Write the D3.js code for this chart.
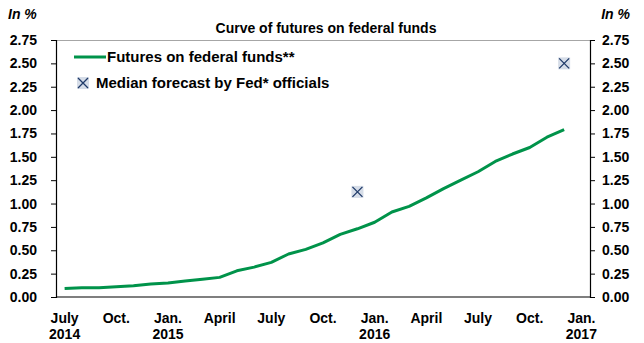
<!DOCTYPE html>
<html>
<head>
<meta charset="utf-8">
<script src="https://cdn.jsdelivr.net/npm/d3@7"></script>
<style>
  html, body { margin: 0; padding: 0; background: #fff; }
  svg { display: block; font-family: "Liberation Sans", Arial, sans-serif; }
</style>
</head>
<body>
<svg id="chart" width="644" height="343"></svg>
<script>
// Monthly categories, July 2014 to January 2017
const months = [
  "2014-07","2014-08","2014-09","2014-10","2014-11","2014-12",
  "2015-01","2015-02","2015-03","2015-04","2015-05","2015-06",
  "2015-07","2015-08","2015-09","2015-10","2015-11","2015-12",
  "2016-01","2016-02","2016-03","2016-04","2016-05","2016-06",
  "2016-07","2016-08","2016-09","2016-10","2016-11","2016-12",
  "2017-01"
];

// Implied rate from federal funds futures (in %), July 2014 - December 2016
const futures = [
  0.09, 0.10, 0.10, 0.11, 0.12, 0.14,
  0.15, 0.17, 0.19, 0.21, 0.28, 0.32,
  0.37, 0.46, 0.51, 0.58, 0.67, 0.73,
  0.80, 0.91, 0.97, 1.06, 1.16, 1.25,
  1.34, 1.45, 1.53, 1.60, 1.71, 1.79
];

// Median projection of FOMC participants for end-of-year rate
const fedMonths = ["2015-12", "2016-12"];
const fedMedian = [1.125, 2.50];

// Axis ticks
const yTicks = [0, 0.25, 0.5, 0.75, 1, 1.25, 1.5, 1.75, 2, 2.25, 2.5, 2.75];
const xTickMonths = ["2014-07","2014-10","2015-01","2015-04","2015-07","2015-10",
                     "2016-01","2016-04","2016-07","2016-10","2017-01"];
const xTickLabels = [["July","2014"],["Oct."],["Jan.","2015"],["April"],["July"],["Oct."],
                     ["Jan.","2016"],["April"],["July"],["Oct."],["Jan.","2017"]];

const svg = d3.select("#chart");
const plotL = 56, plotR = 590, plotT = 40, plotB = 297;

const x = d3.scaleBand().domain(months).range([plotL, plotR]).paddingInner(0).paddingOuter(0);
const xc = m => x(m) + x.bandwidth() / 2;
const y = d3.scaleLinear().domain([0, 2.75]).range([plotB, plotT]);

const green = "#00934a";
const navy = "#1f3a68";
const fontSize = 14;
const legendSize = 15;

// Top border of the plot area
svg.append("line")
  .attr("x1", plotL).attr("x2", plotR)
  .attr("y1", plotT + 0.5).attr("y2", plotT + 0.5)
  .attr("stroke", "#a6a6a6").attr("stroke-width", 1);

// Left and right value axes
const yLeft = d3.axisLeft(y).tickValues(yTicks).tickFormat(d3.format(".2f")).tickSizeOuter(0).tickSize(5).tickPadding(14);
const yRight = d3.axisRight(y).tickValues(yTicks).tickFormat(d3.format(".2f")).tickSizeOuter(0).tickSize(5).tickPadding(7);

function styleAxis(g) {
  g.select(".domain").attr("stroke", "#000").attr("stroke-width", 1.2);
  g.selectAll(".tick line").attr("stroke", "#000").attr("stroke-width", 1);
  g.selectAll(".tick text")
    .attr("fill", "#000")
    .style("font-size", fontSize + "px")
    .style("font-weight", "bold");
}

svg.append("g").attr("transform", `translate(${plotL},0)`).call(yLeft).call(styleAxis);
svg.append("g").attr("transform", `translate(${plotR},0)`).call(yRight).call(styleAxis);

// Bottom axis line
svg.append("line")
  .attr("x1", plotL).attr("x2", plotR)
  .attr("y1", plotB).attr("y2", plotB)
  .attr("stroke", "#000").attr("stroke-width", 1.2);

// Bottom month labels: month on the first line, year below where the year starts
const xl = svg.append("g");
xTickMonths.forEach((m, i) => {
  xTickLabels[i].forEach((s, j) => {
    xl.append("text")
      .attr("x", xc(m))
      .attr("y", plotB + 26 + j * 16)
      .attr("text-anchor", "middle")
      .style("font-size", fontSize + "px")
      .style("font-weight", "bold")
      .text(s);
  });
});

// Futures curve
const line = d3.line().x((d, i) => xc(months[i])).y(d => y(d));
svg.append("path")
  .datum(futures)
  .attr("d", line)
  .attr("fill", "none")
  .attr("stroke", green)
  .attr("stroke-width", 3)
  .attr("stroke-linejoin", "round");

// Fed median markers
function cross(g, cx, cy) {
  const s = 5;
  g.append("rect").attr("x", cx - s - 1).attr("y", cy - s - 1).attr("width", 2 * s + 2).attr("height", 2 * s + 2)
    .attr("fill", "#d6dde8");
  g.append("path")
    .attr("d", `M${cx - s},${cy - s}L${cx + s},${cy + s}M${cx - s},${cy + s}L${cx + s},${cy - s}`)
    .attr("stroke", navy).attr("stroke-width", 1.3).attr("fill", "none");
}
const mk = svg.append("g");
fedMedian.forEach((v, i) => cross(mk, xc(fedMonths[i]), y(v)));

// Legend
const lg = svg.append("g");
lg.append("line").attr("x1", 74).attr("x2", 106).attr("y1", 57).attr("y2", 57)
  .attr("stroke", green).attr("stroke-width", 3);
lg.append("text").attr("x", 107).attr("y", 62)
  .style("font-size", legendSize + "px").style("font-weight", "bold")
  .text("Futures on federal funds**");
cross(lg, 83, 83);
lg.append("text").attr("x", 96).attr("y", 88)
  .style("font-size", legendSize + "px").style("font-weight", "bold")
  .text("Median forecast by Fed* officials");

// Title and unit labels
svg.append("text").attr("x", 326).attr("y", 33).attr("text-anchor", "middle")
  .style("font-size", fontSize + "px").style("font-weight", "bold")
  .text("Curve of futures on federal funds");
svg.append("text").attr("x", 8).attr("y", 19)
  .style("font-size", fontSize + "px").style("font-weight", "bold").style("font-style", "italic")
  .text("In %");
svg.append("text").attr("x", 630).attr("y", 19).attr("text-anchor", "end")
  .style("font-size", fontSize + "px").style("font-weight", "bold").style("font-style", "italic")
  .text("In %");
</script>
</body>
</html>
